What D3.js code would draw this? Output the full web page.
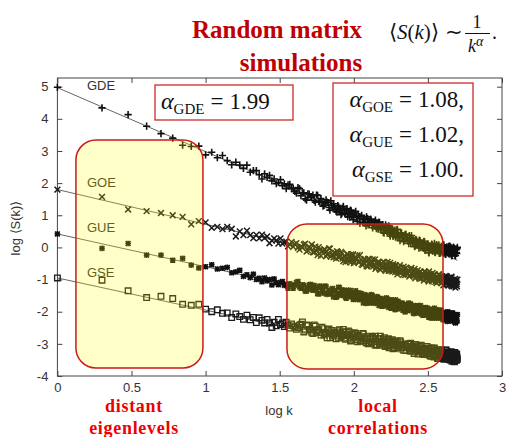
<!DOCTYPE html>
<html>
<head>
<meta charset="utf-8">
<script src="https://cdn.jsdelivr.net/npm/d3@7"></script>
<style>
  html, body { margin: 0; padding: 0; background: #fff; }
  svg { display: block; }
  .tick text { font-family: "Liberation Sans", Arial, sans-serif; font-size: 13px; fill: #333; }
  .tick line { stroke: #444; }
</style>
</head>
<body>
<svg id="chart" width="507" height="437"></svg>
<script>
// Eigenlevel index k (spectrum position) shared by all four ensembles
const ks = [1,2,3,4,5,6,7,8,9,10,11,12,13,14,15,16,17,18,19,20,21,22,23,24,25,26,27,28,29,30,31,32,33,34,35,36,37,38,39,40,
  42,44,46,48,50,52,54,56,58,60,62,64,66,68,70,72,74,76,78,80,82,84,86,88,90,92,94,96,98,100,
  103,106,109,112,115,118,121,124,127,130,133,136,139,142,145,148,151,154,157,160,163,166,169,172,175,178,181,184,187,190,193,196,199,
  205,210,215,220,225,230,235,240,245,250,255,260,265,270,275,280,285,290,295,300,305,310,315,320,325,330,335,340,345,350,
  355,360,365,370,375,380,385,390,395,400,405,410,415,420,425,430,435,440,445,450,455,460,465,470,475,480,485,490,495,500];

// log <S(k)> for each ensemble
const gde = [4.98,4.34,4.13,3.77,3.54,3.40,3.18,3.14,3.15,2.88,
  2.96,2.79,2.86,2.70,2.57,2.65,2.56,2.46,2.56,2.34,2.39,2.39,2.26,2.13,2.29,2.18,2.24,2.07,2.13,1.98,2.02,2.11,1.92,1.98,1.83,1.95,1.96,1.83,1.84,1.74,
  1.86,1.61,1.70,1.47,1.66,1.58,1.46,1.63,1.43,1.52,1.28,1.38,1.41,1.24,1.45,1.23,1.28,1.12,1.30,1.17,1.02,1.22,1.17,1.03,1.21,1.04,0.94,1.14,1.02,0.94,
  1.12,0.81,0.96,0.96,0.78,0.87,0.67,0.90,0.75,0.88,0.68,0.72,0.80,0.58,0.72,0.79,0.55,0.60,0.71,0.44,0.60,0.63,0.49,0.67,0.41,0.50,0.54,0.34,0.54,0.39,0.55,0.34,0.41,
  0.21,0.45,0.37,0.22,0.41,0.26,0.12,0.30,0.37,0.14,0.21,0.05,0.23,0.13,-0.02,0.21,0.05,0.12,-0.03,0.18,-0.07,0.03,0.09,-0.15,0.05,-0.03,0.10,-0.12,0.01,0.13,
  -0.16,-0.04,0.02,-0.11,0.08,-0.10,-0.18,0.03,-0.04,-0.16,0.07,-0.09,-0.21,-0.02,0.02,-0.16,-0.07,-0.20,0.04,-0.15,-0.03,-0.26,-0.11,0.00,-0.15,-0.04,-0.25,-0.07,-0.19,0.00];

const goe = [1.80,1.57,1.18,1.13,1.07,1.00,0.95,0.72,0.82,0.78,
  0.61,0.64,0.57,0.64,0.58,0.34,0.50,0.38,0.52,0.38,0.29,0.39,0.28,0.40,0.29,0.34,0.13,0.21,0.28,0.22,0.12,0.28,0.12,0.16,0.18,0.03,0.09,0.17,0.02,0.10,
  -0.01,0.03,0.09,-0.13,0.02,0.09,-0.15,-0.11,0.01,-0.26,-0.11,-0.07,-0.22,-0.03,-0.29,-0.20,-0.16,-0.35,-0.15,-0.30,-0.14,-0.35,-0.27,-0.46,-0.21,-0.28,-0.42,-0.22,-0.36,-0.49,
  -0.30,-0.24,-0.46,-0.38,-0.54,-0.36,-0.45,-0.60,-0.36,-0.51,-0.44,-0.58,-0.37,-0.62,-0.51,-0.45,-0.70,-0.50,-0.59,-0.46,-0.68,-0.56,-0.45,-0.73,-0.61,-0.56,-0.70,-0.52,-0.69,-0.77,-0.57,-0.65,-0.76,
  -0.55,-0.72,-0.85,-0.67,-0.63,-0.82,-0.74,-0.87,-0.64,-0.84,-0.72,-0.96,-0.82,-0.71,-0.86,-0.75,-0.97,-0.81,-0.93,-0.75,-0.76,-0.98,-0.86,-1.06,-0.84,-0.90,-0.99,-0.79,-0.97,-0.86,
  -1.07,-0.96,-0.91,-1.05,-0.83,-1.03,-0.96,-1.11,-0.90,-1.02,-1.16,-0.94,-0.98,-1.10,-0.91,-1.06,-1.15,-0.94,-1.05,-1.12,-0.91,-1.21,-1.04,-1.02,-1.18,-1.08,-1.25,-1.01,-1.14,-1.00];

const gue = [0.42,-0.03,0.12,-0.24,-0.24,-0.40,-0.34,-0.55,-0.64,-0.60,
  -0.54,-0.67,-0.65,-0.62,-0.79,-0.76,-0.71,-0.90,-0.85,-0.94,-0.83,-1.00,-0.96,-1.07,-0.95,-1.04,-1.00,-1.17,-0.98,-1.10,-1.16,-1.09,-1.06,-1.18,-1.15,-1.27,-1.13,-1.17,-1.27,-1.17,
  -1.06,-1.27,-1.18,-1.36,-1.17,-1.31,-1.18,-1.31,-1.45,-1.23,-1.38,-1.20,-1.46,-1.35,-1.45,-1.28,-1.35,-1.55,-1.44,-1.25,-1.49,-1.39,-1.33,-1.55,-1.49,-1.33,-1.53,-1.41,-1.48,-1.62,
  -1.35,-1.49,-1.63,-1.43,-1.58,-1.51,-1.74,-1.51,-1.59,-1.72,-1.49,-1.72,-1.60,-1.69,-1.55,-1.81,-1.68,-1.61,-1.81,-1.68,-1.78,-1.57,-1.66,-1.87,-1.76,-1.64,-1.85,-1.73,-1.68,-1.94,-1.77,-1.87,-1.67,
  -1.86,-1.74,-1.96,-1.79,-1.85,-1.97,-1.73,-1.94,-1.82,-1.88,-2.06,-1.81,-1.95,-2.02,-1.81,-1.91,-2.07,-1.88,-1.98,-2.05,-1.87,-2.03,-1.91,-2.17,-2.00,-2.12,-1.97,-2.00,-2.18,-1.89,
  -2.11,-2.06,-1.96,-2.18,-2.11,-1.96,-2.17,-2.05,-2.03,-2.25,-2.13,-2.03,-2.24,-2.11,-2.18,-2.00,-2.23,-2.10,-2.16,-2.29,-2.08,-2.21,-2.04,-2.25,-2.17,-2.13,-2.35,-2.16,-2.30,-2.09];

const gse = [-0.95,-1.02,-1.35,-1.56,-1.52,-1.59,-1.77,-1.80,-1.77,-1.92,
  -2.00,-1.94,-2.05,-2.04,-2.18,-2.07,-2.15,-2.24,-2.11,-2.25,-2.18,-2.34,-2.19,-2.27,-2.35,-2.24,-2.35,-2.49,-2.33,-2.44,-2.24,-2.40,-2.35,-2.46,-2.33,-2.42,-2.51,-2.38,-2.44,-2.48,
  -2.50,-2.39,-2.63,-2.41,-2.55,-2.64,-2.41,-2.64,-2.57,-2.73,-2.53,-2.68,-2.81,-2.54,-2.69,-2.76,-2.64,-2.84,-2.68,-2.56,-2.78,-2.72,-2.62,-2.86,-2.71,-2.60,-2.80,-2.86,-2.69,-2.79,
  -2.68,-2.94,-2.76,-2.90,-2.68,-2.84,-2.97,-2.83,-2.96,-2.76,-2.94,-2.84,-3.04,-3.04,-2.84,-2.94,-2.76,-2.99,-2.95,-2.87,-3.08,-2.92,-3.05,-2.85,-2.97,-3.04,-2.91,-3.15,-2.96,-3.04,-2.91,-3.12,-3.02,
  -2.90,-3.13,-3.11,-3.00,-3.21,-3.07,-3.00,-3.22,-3.13,-3.08,-3.30,-3.02,-3.19,-3.23,-3.08,-3.20,-3.04,-3.29,-3.17,-3.33,-3.15,-3.22,-3.32,-3.13,-3.29,-3.39,-3.18,-3.24,-3.38,-3.13,
  -3.31,-3.37,-3.24,-3.45,-3.20,-3.32,-3.38,-3.20,-3.42,-3.29,-3.47,-3.27,-3.37,-3.19,-3.46,-3.40,-3.28,-3.49,-3.37,-3.25,-3.46,-3.54,-3.34,-3.37,-3.53,-3.27,-3.50,-3.42,-3.32,-3.48];

// further levels in the dense (large k) part of the spectrum
const ksFill = [41,43,45,47,49,51,53,55,57,59,61,63,65,67,69,71,73,75,77,79,81,83,85,87,89,91,93,95,97,99,
  101,104,107,110,113,116,119,122,125,128,131,134,137,140,143,146,149,152,155,158,161,164,167,170,173,176,179,182,185,188,191,194,197,
  202,207,212,217,222,227,232,237,242,247,252,257,262,267,272,277,282,287,292,297,302,307,312,317,322,327,332,337,342,347,
  352,357,362,367,372,377,382,387,392,397,402,407,412,417,422,427,432,437,442,447,452,457,462,467,472,477,482,487,492,497];

const gdeFill = [1.69,1.83,1.70,1.51,1.67,1.56,1.63,1.41,1.62,1.41,1.42,1.31,1.48,1.39,1.16,1.32,1.36,1.18,1.10,1.26,1.18,1.06,1.28,1.08,1.17,0.96,1.09,1.16,0.97,0.86,
  1.07,0.94,0.99,0.75,1.00,0.89,0.77,0.95,0.70,0.78,0.84,0.61,0.77,0.85,0.64,0.57,0.77,0.62,0.68,0.47,0.60,0.70,0.49,0.50,0.62,0.35,0.55,0.58,0.38,0.45,0.32,0.46,0.56,
  0.30,0.44,0.31,0.18,0.41,0.30,0.20,0.37,0.12,0.20,0.25,0.02,0.25,0.09,0.17,0.23,-0.01,0.09,-0.01,0.19,-0.09,0.09,-0.01,0.11,-0.17,0.03,-0.05,0.09,-0.11,0.03,
  -0.15,-0.04,0.09,-0.10,0.04,-0.19,-0.04,-0.14,0.03,-0.10,0.08,-0.18,-0.03,-0.22,-0.01,-0.09,-0.15,0.03,-0.19,-0.08,0.00,-0.26,-0.04,-0.16,0.00,-0.14,-0.25,-0.06,-0.16,-0.04];

const goeFill = [0.13,-0.07,-0.01,0.12,-0.09,-0.03,-0.15,0.02,-0.24,-0.07,-0.13,-0.06,-0.28,-0.22,-0.04,-0.23,-0.31,-0.17,-0.12,-0.32,-0.27,-0.18,-0.43,-0.27,-0.38,-0.21,-0.37,-0.47,-0.30,-0.22,
  -0.45,-0.36,-0.45,-0.24,-0.53,-0.46,-0.37,-0.58,-0.36,-0.48,-0.57,-0.37,-0.56,-0.67,-0.49,-0.45,-0.67,-0.55,-0.64,-0.45,-0.60,-0.73,-0.54,-0.58,-0.72,-0.48,-0.69,-0.75,-0.57,-0.67,-0.55,-0.71,-0.84,
  -0.63,-0.80,-0.70,-0.60,-0.86,-0.78,-0.71,-0.91,-0.68,-0.79,-0.87,-0.67,-0.92,-0.79,-0.88,-0.97,-0.76,-0.88,-0.81,-1.03,-0.76,-0.97,-0.89,-1.02,-0.75,-0.96,-0.90,-1.05,-0.86,-1.01,
  -0.84,-0.97,-1.11,-0.92,-1.07,-0.86,-1.02,-0.93,-1.10,-0.99,-1.18,-0.92,-1.08,-0.89,-1.12,-1.04,-0.99,-1.18,-0.97,-1.09,-1.18,-0.93,-1.15,-1.05,-1.21,-1.09,-0.98,-1.17,-1.08,-1.21];

const gueFill = [-1.09,-1.23,-1.16,-1.36,-1.26,-1.15,-1.33,-1.23,-1.44,-1.20,-1.30,-1.43,-1.22,-1.42,-1.38,-1.31,-1.54,-1.36,-1.52,-1.24,-1.43,-1.32,-1.50,-1.41,-1.58,-1.37,-1.52,-1.34,-1.48,-1.61,
  -1.44,-1.60,-1.41,-1.57,-1.51,-1.73,-1.47,-1.60,-1.52,-1.73,-1.47,-1.69,-1.62,-1.74,-1.53,-1.62,-1.72,-1.59,-1.83,-1.63,-1.71,-1.82,-1.59,-1.78,-1.71,-1.63,-1.89,-1.79,-1.68,-1.85,-1.63,-1.75,-1.91,
  -1.81,-1.91,-1.73,-1.79,-2.01,-1.77,-1.91,-1.95,-1.76,-1.89,-2.04,-1.85,-1.94,-1.82,-2.04,-2.00,-1.81,-1.92,-2.11,-1.91,-1.99,-2.10,-1.88,-2.09,-1.99,-1.92,-2.20,-1.98,-2.07,-1.96,
  -2.20,-2.12,-1.94,-2.04,-2.20,-2.01,-2.13,-1.95,-2.20,-2.10,-2.05,-2.25,-2.19,-2.04,-2.11,-2.30,-2.10,-2.04,-2.24,-2.17,-2.21,-2.04,-2.28,-2.10,-2.20,-2.14,-2.33,-2.18,-2.10,-2.28];

const gseFill = [-2.55,-2.42,-2.32,-2.57,-2.43,-2.56,-2.68,-2.45,-2.56,-2.65,-2.48,-2.73,-2.64,-2.59,-2.81,-2.58,-2.73,-2.66,-2.59,-2.82,-2.66,-2.75,-2.55,-2.83,-2.64,-2.74,-2.63,-2.91,-2.72,-2.80,
  -2.65,-2.87,-2.74,-2.92,-2.81,-2.69,-2.90,-2.77,-3.00,-2.85,-2.96,-2.80,-2.93,-2.76,-3.03,-2.84,-3.04,-2.83,-2.92,-2.99,-2.81,-3.04,-2.93,-2.85,-3.12,-2.91,-3.02,-2.87,-3.01,-3.12,-2.95,-3.05,-2.93,
  -3.11,-2.94,-3.04,-3.20,-3.02,-3.10,-3.01,-3.21,-2.98,-3.17,-3.14,-3.23,-3.03,-3.11,-3.32,-3.15,-3.09,-3.25,-3.32,-3.14,-3.20,-3.31,-3.08,-3.27,-3.16,-3.36,-3.22,-3.13,-3.32,-3.41,
  -3.19,-3.31,-3.23,-3.46,-3.19,-3.28,-3.39,-3.19,-3.43,-3.33,-3.26,-3.47,-3.30,-3.20,-3.40,-3.45,-3.25,-3.38,-3.31,-3.50,-3.37,-3.25,-3.46,-3.43,-3.31,-3.56,-3.36,-3.31,-3.51,-3.42];

const seriesNames = ["GDE", "GOE", "GUE", "GSE"];
const alphas = [1.99, 1.08, 1.02, 1.00];        // fitted power-law exponents
const intercepts = [4.97, 1.80, 0.42, -0.95];   // fitted log <S(1)>
const xTicks = [0, 0.5, 1, 1.5, 2, 2.5, 3];
const yTicks = [-4, -3, -2, -1, 0, 1, 2, 3, 4, 5];
// shaded regions (log k range, log S range)
const regionX = [[0.125, 0.982], [1.549, 2.602]];
const regionY = [[-3.75, 3.34], [-3.78, 0.73]];

const svg = d3.select("#chart");
const x = d3.scaleLinear().domain([0, 3]).range([57.4, 502]);
const y = d3.scaleLinear().domain([-4, 5.27]).range([376, 78]);

// axes with inward ticks on all four sides
const fmt = d => String(d);
svg.append("g").attr("transform", "translate(0,376)")
  .call(d3.axisBottom(x).tickValues(xTicks).tickFormat(fmt).tickSizeInner(-5).tickSizeOuter(0).tickPadding(7));
svg.append("g").attr("transform", "translate(0,78)")
  .call(d3.axisTop(x).tickValues(xTicks).tickFormat("").tickSizeInner(-5).tickSizeOuter(0));
svg.append("g").attr("transform", "translate(57.4,0)")
  .call(d3.axisLeft(y).tickValues(yTicks).tickFormat(fmt).tickSizeInner(-5).tickSizeOuter(0).tickPadding(9));
svg.append("g").attr("transform", "translate(502,0)")
  .call(d3.axisRight(y).tickValues(yTicks).tickFormat("").tickSizeInner(-5).tickSizeOuter(0));
svg.selectAll(".domain").remove();
svg.append("rect").attr("x", x(0)).attr("y", y(5.27)).attr("width", x(3) - x(0)).attr("height", y(-4) - y(5.27))
  .attr("fill", "none").attr("stroke", "#444").attr("stroke-width", 1);

// axis titles
const sans = '"Liberation Sans", Arial, sans-serif';
svg.append("text").attr("x", 279).attr("y", 415).attr("text-anchor", "middle")
  .style("font-family", sans).style("font-size", "13px").attr("fill", "#333").text("log k");
svg.append("text").attr("transform", "translate(20,228) rotate(-90)").attr("text-anchor", "middle")
  .style("font-family", sans).style("font-size", "13px").attr("fill", "#333").text("log \u27E8S(k)\u27E9");

// fitted power laws
const allKs = ks.concat(ksFill);
const logKs = allKs.map(k => Math.log10(k));
const xEnd = d3.max(logKs);
seriesNames.forEach((name, i) => {
  svg.append("line")
    .attr("x1", x(0)).attr("y1", y(intercepts[i]))
    .attr("x2", x(xEnd)).attr("y2", y(intercepts[i] - alphas[i] * xEnd))
    .attr("stroke", "#666").attr("stroke-width", 1);
});

// point symbols per ensemble
const plus = s => `M${-s},0H${s}M0,${-s}V${s}`;
const cross = s => `M${-s},${-s}L${s},${s}M${-s},${s}L${s},${-s}`;
const square = s => `M${-s},${-s}h${2 * s}v${2 * s}h${-2 * s}Z`;
const symbols = [
  { d: plus(3.6), stroke: "#111", w: 1.6 },
  { d: cross(2.9), stroke: "#1a1a1a", w: 1.45 },
  { d: plus(2.8) + cross(2.4), stroke: "#111", w: 1.6 },
  { d: square(2.8), stroke: "#1a1a1a", w: 1.3 }
];
const values = [gde.concat(gdeFill), goe.concat(goeFill), gue.concat(gueFill), gse.concat(gseFill)];
[3, 2, 1, 0].forEach(i => {
  const pts = logKs.map((lx, j) => ({ lx, v: values[i][j] })).filter(p => p.v !== undefined);
  svg.append("g").selectAll("path").data(pts).join("path")
    .attr("transform", p => `translate(${x(p.lx)},${y(p.v)})`)
    .attr("d", symbols[i].d).attr("fill", "none")
    .attr("stroke", symbols[i].stroke).attr("stroke-width", symbols[i].w);
});

// ensemble labels
const labelPos = [[87, 90], [87, 187], [87, 232], [87, 277]];
seriesNames.forEach((name, i) => {
  svg.append("text").attr("x", labelPos[i][0]).attr("y", labelPos[i][1])
    .style("font-family", sans).style("font-size", "13px").attr("fill", "#333").text(name);
});

// highlighted regions
regionX.forEach((rx, i) => {
  svg.append("rect")
    .attr("x", x(rx[0])).attr("y", y(regionY[i][1]))
    .attr("width", x(rx[1]) - x(rx[0])).attr("height", y(regionY[i][0]) - y(regionY[i][1]))
    .attr("rx", 20).attr("ry", 20)
    .attr("fill", "#ffff00").attr("fill-opacity", 0.22)
    .attr("stroke", "#cc1a1a").attr("stroke-width", 1.5);
});

// exponent boxes
const serif = '"Liberation Serif", "Times New Roman", serif';
svg.append("rect").attr("x", 155).attr("y", 85).attr("width", 138).attr("height", 35)
  .attr("fill", "#fff").attr("stroke", "#cc2a2a").attr("stroke-width", 1.3);
svg.append("rect").attr("x", 333).attr("y", 83).attr("width", 140).attr("height", 113)
  .attr("fill", "#fff").attr("stroke", "#cc2a2a").attr("stroke-width", 1.3);

function alphaText(xPos, yPos, anchor, sub, valueText) {
  const t = svg.append("text").attr("x", xPos).attr("y", yPos).attr("text-anchor", anchor)
    .style("font-family", serif).attr("fill", "#111");
  t.append("tspan").style("font-size", "24px").style("font-style", "italic").text("\u03B1");
  t.append("tspan").attr("dy", 5).style("font-size", "15px").text(sub);
  t.append("tspan").attr("dy", -5).attr("dx", 6).style("font-size", "23px").text("=");
  t.append("tspan").attr("dx", 6).style("font-size", "23px").text(valueText);
}
alphaText(161, 109, "start", seriesNames[0], alphas[0].toFixed(2));
alphaText(464, 107, "end", seriesNames[1], alphas[1].toFixed(2) + ",");
alphaText(464, 142, "end", seriesNames[2], alphas[2].toFixed(2) + ",");
alphaText(464, 177, "end", seriesNames[3], alphas[3].toFixed(2) + ".");

// title
svg.append("text").attr("x", 277).attr("y", 38).attr("text-anchor", "middle")
  .style("font-family", serif).style("font-weight", "bold").style("font-size", "25px")
  .attr("fill", "#c00000").text("Random matrix");
svg.append("text").attr("x", 301).attr("y", 71).attr("text-anchor", "middle")
  .style("font-family", serif).style("font-weight", "bold").style("font-size", "25px")
  .attr("fill", "#c00000").text("simulations");

// power law formula
const f = svg.append("text").attr("x", 389).attr("y", 39).style("font-family", serif)
  .style("font-size", "21px").attr("fill", "#111");
f.append("tspan").text("\u27E8");
f.append("tspan").style("font-style", "italic").text("S");
f.append("tspan").text("(");
f.append("tspan").style("font-style", "italic").text("k");
f.append("tspan").text(")\u27E9");
f.append("tspan").attr("dx", 6).text("\u223C");
svg.append("text").attr("x", 477).attr("y", 28).attr("text-anchor", "middle")
  .style("font-family", serif).style("font-size", "18px").attr("fill", "#111").text("1");
svg.append("line").attr("x1", 465).attr("x2", 490).attr("y1", 33.5).attr("y2", 33.5)
  .attr("stroke", "#111").attr("stroke-width", 1);
const den = svg.append("text").attr("x", 468).attr("y", 52)
  .style("font-family", serif).style("font-size", "18px").attr("fill", "#111");
den.append("tspan").style("font-style", "italic").text("k");
den.append("tspan").attr("dy", -6).style("font-size", "14px").style("font-style", "italic").text("\u03B1");
svg.append("text").attr("x", 492).attr("y", 39).style("font-family", serif)
  .style("font-size", "20px").attr("fill", "#111").text(".");

// region captions
const captions = [[134, ["distant", "eigenlevels"]], [378, ["local", "correlations"]]];
captions.forEach(([cx, lines]) => {
  lines.forEach((s, j) => {
    svg.append("text").attr("x", cx).attr("y", 412 + j * 22).attr("text-anchor", "middle")
      .style("font-family", serif).style("font-weight", "bold").style("font-size", "18px")
      .style("letter-spacing", "0.7px").attr("fill", "#ee0000").text(s);
  });
});
</script>
</body>
</html>
